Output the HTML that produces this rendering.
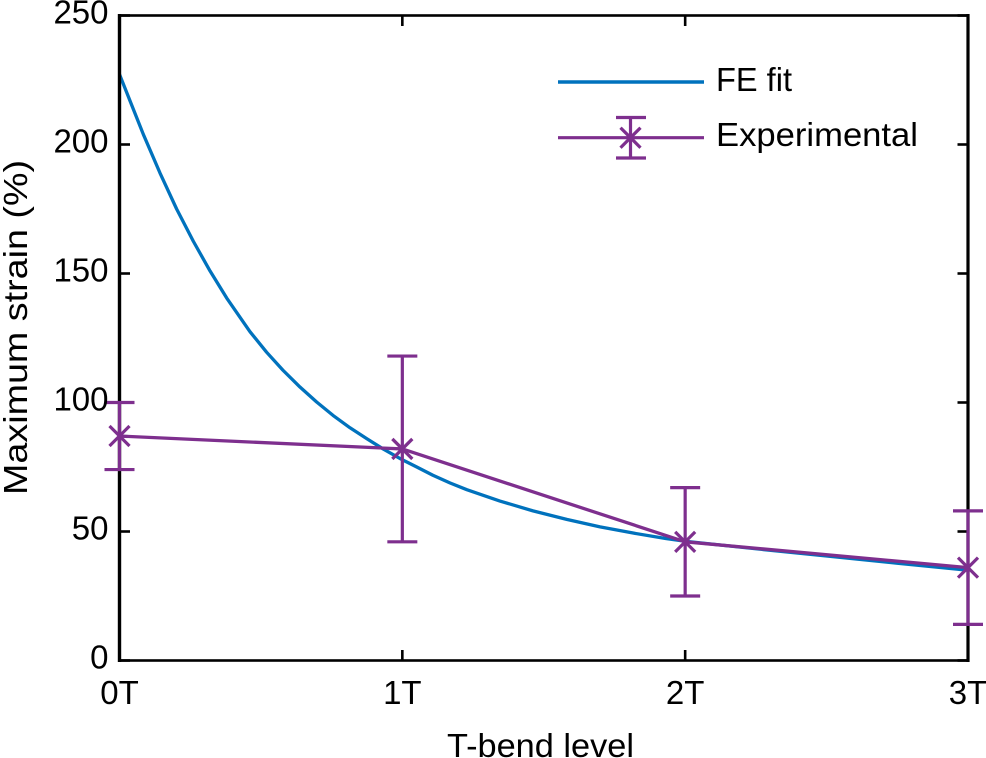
<!DOCTYPE html>
<html lang="en">
<head>
<meta charset="utf-8">
<title>Maximum strain vs T-bend level</title>
<style>
html,body{margin:0;padding:0;background:#fff;}
svg{display:block;}
text{font-family:"Liberation Sans",sans-serif;font-size:33px;fill:#000;}
</style>
</head>
<body>
<svg id="chart" xmlns="http://www.w3.org/2000/svg" width="986" height="758" viewBox="0 0 986 758">
  <g id="ticks"></g>
  <g id="fe-series"></g>
  <rect x="119.5" y="15.5" width="848.5" height="645" fill="none" stroke="#000" stroke-width="2.6"></rect>
  <line x1="119.5" y1="14" x2="119.5" y2="662" stroke="#000" stroke-width="3.4"></line>
  <line x1="968" y1="14" x2="968" y2="662" stroke="#000" stroke-width="3.2"></line>
  <g id="exp-series"></g>
  <g id="tick-labels"></g>
  <text x="447" y="757" textLength="187" lengthAdjust="spacingAndGlyphs">T-bend level</text>
  <text transform="translate(27,495) rotate(-90)" x="0" y="0" textLength="335" lengthAdjust="spacingAndGlyphs">Maximum strain (%)</text>
  <g>
    <g>
      <line x1="558" y1="82" x2="704" y2="82" stroke="#0072BD" stroke-width="3.4"></line>
      <text x="716" y="91" textLength="76" lengthAdjust="spacingAndGlyphs">FE fit</text>
    </g>
    <g stroke="#7E2F8E" stroke-width="3.2" fill="none">
      <line x1="558" y1="137.7" x2="704" y2="137.7"></line>
      <line x1="630.5" y1="117.5" x2="630.5" y2="158"></line>
      <line x1="616" y1="117.5" x2="646" y2="117.5"></line>
      <line x1="616" y1="158" x2="646" y2="158"></line>
      <line x1="620.5" y1="127.7" x2="640.5" y2="147.7"></line>
      <line x1="620.5" y1="147.7" x2="640.5" y2="127.7"></line>
    </g>
    <text x="716" y="146" textLength="202" lengthAdjust="spacingAndGlyphs">Experimental</text>
  </g>
</svg>
<script>
const xCategories = ['0T', '1T', '2T', '3T'];
const yTickValues = [0, 50, 100, 150, 200, 250];
const feLevels = [0, 0.084, 0.143, 0.202, 0.261, 0.32, 0.379, 0.461, 0.52, 0.578, 0.638, 0.697, 0.755, 0.815, 0.874, 0.932, 1, 1.051, 1.108, 1.169, 1.228, 1.345, 1.462, 1.581, 1.699, 1.816, 1.931, 2, 2.25, 2.5, 2.75, 3];
const feStrain = [227.2, 204, 189, 175, 162.5, 151, 140.5, 127.5, 119.5, 112.5, 106, 100.2, 95, 90.2, 86, 82, 77.8, 75, 71.8, 68.8, 66.2, 61.8, 58, 54.7, 51.8, 49.4, 47.3, 46.2, 43.3, 40.5, 37.7, 35];
const expLevels = [0, 1, 2, 3];
const expStrain = [87, 82, 46, 36];
const expUpper = [100, 118, 67, 58];
const expLower = [74, 46, 25, 14];

const SVG_NS = 'http://www.w3.org/2000/svg';
const xScale = function (v) { return 119.5 + (v / 3) * 848.5; };
const yScale = function (v) { return 660.5 - (v / 250) * 645; };

function makeLine(parent, x1, y1, x2, y2, stroke, width) {
  const l = document.createElementNS(SVG_NS, 'line');
  l.setAttribute('x1', x1);
  l.setAttribute('y1', y1);
  l.setAttribute('x2', x2);
  l.setAttribute('y2', y2);
  l.setAttribute('stroke', stroke);
  l.setAttribute('stroke-width', width);
  parent.appendChild(l);
  return l;
}

function makePolyline(parent, xs, ys, stroke) {
  const p = document.createElementNS(SVG_NS, 'polyline');
  p.setAttribute('points', xs.map(function (x, i) { return xScale(x) + ',' + yScale(ys[i]); }).join(' '));
  p.setAttribute('fill', 'none');
  p.setAttribute('stroke', stroke);
  p.setAttribute('stroke-width', 3.3);
  p.setAttribute('stroke-linejoin', 'round');
  parent.appendChild(p);
  return p;
}

const tickGroup = document.getElementById('ticks');
const labelGroup = document.getElementById('tick-labels');
const feGroup = document.getElementById('fe-series');
const expGroup = document.getElementById('exp-series');

yTickValues.forEach(function (v) {
  const y = yScale(v);
  const left = makeLine(tickGroup, 119.5, y, 130, y, '#000', 2.6);
  
  
  const right = makeLine(tickGroup, 957.5, y, 968, y, '#000', 2.6);
  
  
  const t = document.createElementNS(SVG_NS, 'text');
  t.setAttribute('x', 108.5);
  t.setAttribute('y', y + 8);
  t.setAttribute('text-anchor', 'end');
  t.textContent = String(v);
  
  
  labelGroup.appendChild(t);
});

xCategories.forEach(function (c, i) {
  const x = xScale(i);
  const bottom = makeLine(tickGroup, x, 660.5, x, 650, '#000', 2.6);
  
  
  const top = makeLine(tickGroup, x, 15.5, x, 26, '#000', 2.6);
  
  
  const t = document.createElementNS(SVG_NS, 'text');
  t.setAttribute('x', x);
  t.setAttribute('y', 704);
  t.setAttribute('text-anchor', 'middle');
  t.textContent = c;
  
  
  labelGroup.appendChild(t);
});

const feLine = makePolyline(feGroup, feLevels, feStrain, '#0072BD');



const expLine = makePolyline(expGroup, expLevels, expStrain, '#7E2F8E');



expLevels.forEach(function (lvl, i) {
  const x = xScale(lvl);
  const yMid = yScale(expStrain[i]);
  const yHi = yScale(expUpper[i]);
  const yLo = yScale(expLower[i]);
  const color = '#7E2F8E';
  const bar = makeLine(expGroup, x, yHi, x, yLo, color, 3.2);
  
  
  const capTop = makeLine(expGroup, x - 15, yHi, x + 15, yHi, color, 3.2);
  
  
  const capBottom = makeLine(expGroup, x - 15, yLo, x + 15, yLo, color, 3.2);
  
  
  const markA = makeLine(expGroup, x - 10, yMid - 10, x + 10, yMid + 10, color, 3.2);
  
  
  const markB = makeLine(expGroup, x - 10, yMid + 10, x + 10, yMid - 10, color, 3.2);
  
  
});
</script>
</body>
</html>
